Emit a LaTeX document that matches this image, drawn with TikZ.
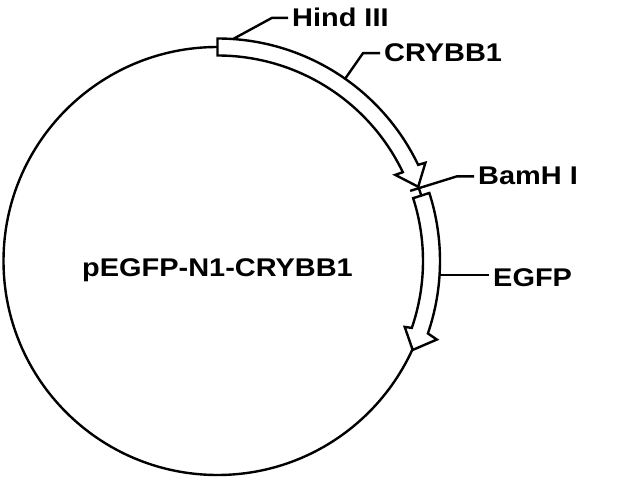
\documentclass[tikz,border=0pt]{standalone}
\usepackage{fontspec}
\newfontfamily\labfont{Liberation Sans}[FakeStretch=1.13]
\usetikzlibrary{calc}
\begin{document}
\begin{tikzpicture}[x=1pt,y=1pt,
  line width=2.4pt, line join=miter,
  band/.style={draw=black,fill=white},
  leader/.style={draw=black},
  lbl/.style={font=\labfont\bfseries\fontsize{25.6}{30}\selectfont, inner sep=3pt, anchor=base west},
  title/.style={font=\labfont\bfseries\fontsize{25.6}{30}\selectfont, inner sep=0pt, anchor=base}]
\useasboundingbox (0,0) rectangle (640,480);
\coordinate (C) at (217.5,219);
% plasmid backbone
\draw (C) circle[radius=214pt];
% CRYBB1 band
\path[band] ($(C)+(90:222.5pt)$) arc[start angle=90, end angle=25.6, radius=222.5pt]
  -- ($(C)+(25.3:230pt)$) -- ($(C)+(20.3:214pt)$) -- ($(C)+(25.85:197.5pt)$)
  -- ($(C)+(25.6:205.5pt)$) arc[start angle=25.6, end angle=90, radius=205.5pt] -- cycle;
% EGFP band
\path[band] ($(C)+(17.8:222.5pt)$) arc[start angle=17.8, end angle=-19, radius=222.5pt]
  -- ($(C)+(-19.7:233pt)$) -- ($(C)+(-24.5:214.5pt)$) -- ($(C)+(-19.4:198.5pt)$)
  -- ($(C)+(-19:205.5pt)$) arc[start angle=-19, end angle=17.8, radius=205.5pt] -- cycle;
% labels
\node[title] (name) at (217.5,203.3) {pEGFP-N1-CRYBB1};
\node[lbl] (hind) at (288,453) {Hind III};
\node[lbl] (cry) at (380,418) {CRYBB1};
\node[lbl] (bam) at (474,295) {BamH I};
\node[lbl] (egfp) at (489,194) {EGFP};
% leader anchor points
\coordinate (hA) at ($(C)+(86:222.5pt)$);
\coordinate (cA) at ($(C)+(55:222.5pt)$);
\coordinate (bA) at ($(C)+(20:205pt)$);
\coordinate (eA) at ($(C)+(-3.6:222.5pt)$);
% leaders
\draw[leader] (hA) -- (272,0 |- hind.west) -- (hind.west);
\draw[leader] (cA) -- (363,0 |- cry.west) -- (cry.west);
\draw[leader] (bA) -- (457,0 |- bam.west) -- (bam.west);
\draw[leader] (eA) -- (eA -| egfp.west);
\end{tikzpicture}
\end{document}
